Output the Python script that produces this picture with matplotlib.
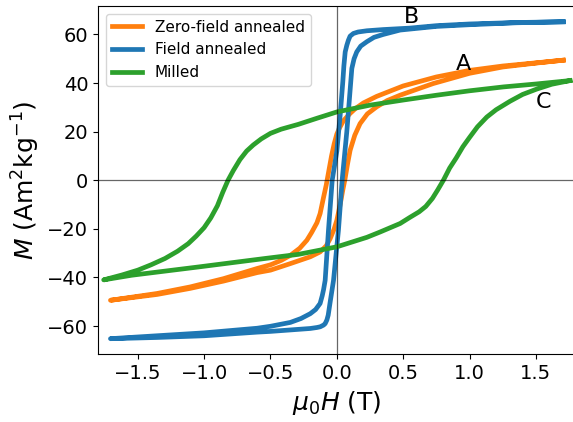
import matplotlib
matplotlib.use("Agg")
import matplotlib.pyplot as plt

# Zero-field annealed (A)
zf_h_down = [1.706, 1.5, 1.25, 1.0, 0.75, 0.5, 0.3, 0.2, 0.14, 0.1, 0.05, 0.02, 0.0, -0.02, -0.04,
             -0.06, -0.08, -0.1, -0.126, -0.15, -0.19, -0.226, -0.28, -0.35, -0.42, -0.5, -0.6,
             -0.854, -1.105, -1.355, -1.706]
zf_m_down = [49.4, 48.3, 47.0, 45.2, 42.5, 38.8, 34.5, 31.8, 29.5, 27.5, 24.5, 21.5, 19.0, 15.0, 10.0,
             4.0, -2.0, -7.0, -13.7, -17.5, -21.5, -24.7, -28.0, -30.9, -33.0, -34.8, -36.3,
             -40.5, -43.9, -46.6, -49.4]
zf_h_up = [-1.706, -1.355, -1.105, -0.854, -0.6, -0.5, -0.35, -0.2, -0.126, -0.08, -0.05, -0.02,
           0.0, 0.025, 0.045, 0.06, 0.08, 0.1, 0.135, 0.175, 0.23, 0.3, 0.38, 0.477, 0.727, 1.0,
           1.25, 1.5, 1.706]
zf_m_up = [-49.4, -47.0, -44.5, -41.5, -38.0, -37.0, -34.3, -31.5, -29.5, -27.0, -24.0, -20.0,
           -16.5, -10.0, -4.0, 0.0, 6.5, 12.3, 18.5, 23.3, 27.3, 30.2, 32.8, 35.0, 39.8, 44.0,
           46.6, 48.2, 49.4]

# Field annealed (B)
fa_h_down = [1.706, 1.355, 1.0, 0.75, 0.55, 0.35, 0.226, 0.16, 0.125, 0.1, 0.087, 0.075, 0.063,
             0.053, 0.045, 0.025, 0.0, -0.035, -0.063, -0.088, -0.1, -0.11, -0.126, -0.16, -0.2,
             -0.27, -0.35, -0.5, -0.6, -1.0, -1.355, -1.706]
fa_m_down = [65.2, 64.9, 64.3, 63.6, 62.6, 62.0, 61.5, 61.0, 60.4, 59.3, 57.6, 55.5, 52.8,
             47.0, 40.5, 26.7, 12.0, 0.0, -20.6, -41.2, -45.0, -47.5, -50.7, -53.2, -54.9,
             -56.9, -58.5, -60.1, -60.9, -62.8, -64.0, -65.2]
fa_h_up = [-1.706, -1.355, -1.0, -0.6, -0.5, -0.2, -0.15, -0.125, -0.1, -0.088, -0.075, -0.065,
           -0.05, -0.025, 0.012, 0.04, 0.075, 0.095, 0.105, 0.113, 0.13, 0.15, 0.18, 0.226, 0.28,
           0.35, 0.477, 0.75, 1.0, 1.355, 1.706]
fa_m_up = [-65.2, -64.7, -64.0, -62.5, -62.2, -61.0, -60.6, -60.3, -59.6, -59.0, -57.5, -55.5,
           -50.0, -41.2, -20.6, 0.0, 19.9, 33.6, 40.5, 46.0, 50.0, 52.8, 55.2, 57.0, 58.8,
           60.0, 61.8, 63.3, 64.0, 64.8, 65.2]

# Milled (C)
mi_h_down = [1.757, 1.5, 1.255, 1.0, 0.753, 0.5, 0.25, 0.0, -0.15, -0.29, -0.42, -0.5, -0.57,
             -0.63, -0.68, -0.73, -0.78, -0.82, -0.86, -0.9, -0.95, -1.0, -1.06, -1.12, -1.2,
             -1.295, -1.4, -1.5, -1.62, -1.757]
mi_m_down = [41.0, 39.6, 38.4, 36.8, 35.0, 33.0, 30.9, 28.1, 25.5, 23.0, 21.0, 19.3, 17.0,
             14.5, 12.0, 8.5, 4.0, 0.0, -5.0, -10.5, -15.5, -19.5, -23.0, -26.1, -29.2,
             -32.2, -34.8, -37.0, -39.0, -41.0]
mi_h_up = [-1.757, -1.547, -1.045, -0.542, -0.29, 0.0, 0.226, 0.326, 0.477, 0.55, 0.62, 0.67,
           0.72, 0.76, 0.803, 0.85, 0.9, 0.95, 1.0, 1.06, 1.13, 1.2, 1.305, 1.4, 1.506, 1.62,
           1.757]
mi_m_up = [-41.0, -39.1, -35.7, -32.2, -30.5, -27.4, -23.5, -21.3, -17.8, -15.3, -13.0, -10.8,
           -7.5, -4.0, 0.0, 5.0, 9.2, 13.8, 17.6, 22.0, 26.0, 29.0, 32.5, 35.3, 37.5, 39.5,
           41.0]

labels = ["Zero-field annealed", "Field annealed", "Milled"]
annot = [("A", 0.953, 48.0), ("B", 0.56, 67.2), ("C", 1.556, 32.2)]

fig = plt.figure(figsize=(5.73, 4.22), dpi=100)
ax = fig.add_axes([0.171, 0.16, 0.8337, 0.8258])

ax.plot(zf_h_down + zf_h_up, zf_m_down + zf_m_up, color="tab:orange", lw=3.4, label=labels[0])
ax.plot(fa_h_down + fa_h_up, fa_m_down + fa_m_up, color="tab:blue", lw=3.4, label=labels[1])
ax.plot(mi_h_down + mi_h_up, mi_m_down + mi_m_up, color="tab:green", lw=3.4, label=labels[2])

ax.axhline(0, color="k", lw=0.9, alpha=0.6)
ax.axvline(0, color="k", lw=0.9, alpha=0.6)

for t, x, y in annot:
    ax.text(x, y, t, fontsize=16, ha="center", va="center")

ax.set_xlim(-1.8, 1.8)
ax.set_ylim(-71.7, 71.7)
ax.set_xticks([-1.5, -1.0, -0.5, 0.0, 0.5, 1.0, 1.5])
ax.set_yticks([-60, -40, -20, 0, 20, 40, 60])
ax.tick_params(labelsize=14)
ax.set_xlabel(r"$\mu_0H$ (T)", fontsize=18)
ax.set_ylabel(r"$M$ (Am$^2$kg$^{-1}$)", fontsize=18)
ax.legend(loc="upper left", fontsize=11)

fig.savefig("out.png", dpi=100)
